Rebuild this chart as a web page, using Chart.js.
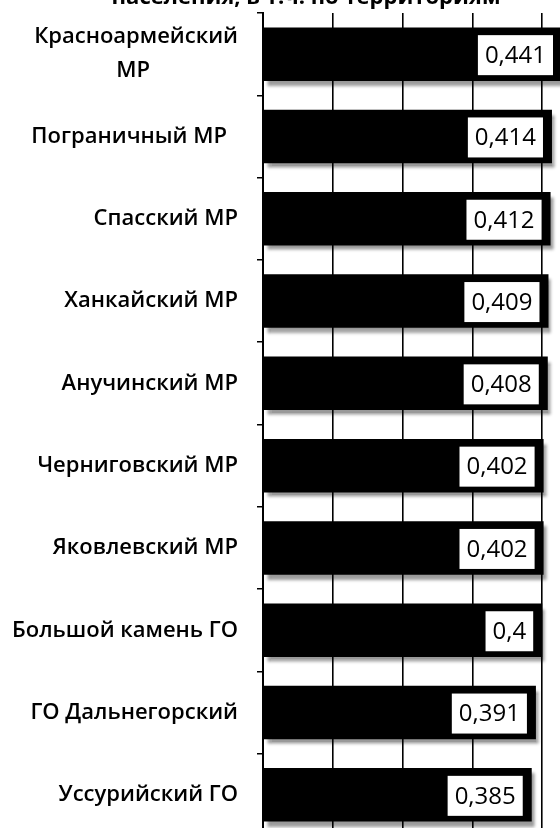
<!DOCTYPE html>
<html lang="ru">
<head>
<meta charset="utf-8">
<title>Коэффициент по территориям</title>
<script src="https://cdn.jsdelivr.net/npm/chart.js@4/dist/chart.umd.min.js"></script>
<style>
    html, body { margin: 0; padding: 0; background: #fff; }
    body { width: 560px; height: 828px; overflow: hidden; position: relative; }
    #chart { position: absolute; left: 0; top: -20px; }
</style>
</head>
<body>
<canvas id="chart" width="620" height="860"></canvas>
<script>
const titleText = 'населения, в т.ч. по территориям';

const categories = [
    ['Красноармейский', 'МР\u2003\u2003\u2003\u2003'],
    'Пограничный МР\u2002',
    'Спасский МР',
    'Ханкайский МР',
    'Анучинский МР',
    'Черниговский МР',
    'Яковлевский МР',
    'Большой камень ГО',
    'ГО Дальнегорский',
    'Уссурийский ГО',
];
const values = [0.441, 0.414, 0.412, 0.409, 0.408, 0.402, 0.402, 0.4, 0.391, 0.385];
const xTicks = [0, 0.1, 0.2, 0.3, 0.4, 0.5];

const FONT = '"Open Sans", "Noto Sans", sans-serif';

// Comma as the decimal separator, as in the source.
const fmt = (v) => String(v).replace('.', ',');

// Soft grey drop shadow under the bars.
const barShadow = {
    id: 'barShadow',
    beforeDatasetsDraw(chart) {
        const ctx = chart.ctx;
        ctx.save();
        ctx.shadowColor = 'rgba(0, 0, 0, 0.4)';
        ctx.shadowOffsetX = 3;
        ctx.shadowOffsetY = 5;
        ctx.shadowBlur = 3;
    },
    afterDatasetsDraw(chart) {
        chart.ctx.restore();
    },
};

// White value boxes sitting inside the end of each bar.
const valueBoxes = {
    id: 'valueBoxes',
    afterDatasetsDraw(chart) {
        const ctx = chart.ctx;
        const meta = chart.getDatasetMeta(0);
        const visibleRight = 553;
        ctx.save();
        ctx.font = '24px ' + FONT;
        ctx.textAlign = 'center';
        ctx.textBaseline = 'middle';
        meta.data.forEach((bar, i) => {
            const text = fmt(values[i]);
            const w = ctx.measureText(text).width + 14;
            const h = 40;
            const right = Math.min(bar.x - 9, visibleRight);
            const top = bar.y - h / 2 + 1;
            ctx.fillStyle = '#fff';
            ctx.fillRect(right - w, top, w, h);
            ctx.fillStyle = '#000';
            ctx.fillText(text, right - w / 2, top + h / 2 + 1);
        });
        ctx.restore();
    },
};

new Chart(document.getElementById('chart'), {
    type: 'bar',
    data: {
        labels: categories,
        datasets: [{
            data: values,
            backgroundColor: '#000',
            borderWidth: 0,
            categoryPercentage: 1,
            barPercentage: 0.65,
        }],
    },
    options: {
        indexAxis: 'y',
        responsive: false,
        animation: false,
        events: [],
        layout: { padding: { top: 0, right: 8, bottom: 4, left: 0 } },
        plugins: {
            legend: { display: false },
            tooltip: { enabled: false },
            title: {
                display: true,
                text: titleText,
                color: '#000',
                font: { family: FONT, size: 22, weight: 'bold' },
                padding: { top: 5, bottom: 1.6 },
            },
        },
        scales: {
            x: {
                min: 0,
                max: 0.5,
                afterBuildTicks: (scale) => { scale.ticks = xTicks.map((v) => ({ value: v })); },
                grid: { color: '#000', lineWidth: 1.6, drawTicks: false },
                border: { display: true, color: '#000', width: 1.6 },
                ticks: { display: false },
            },
            y: {
                afterFit: (scale) => {
                    scale.width = 263;
                    // labels sit inside their bands, no extra room needed above/below
                    scale.paddingTop = 0;
                    scale.paddingBottom = 0;
                },
                grid: { drawOnChartArea: false, color: '#000', lineWidth: 1.5, tickLength: 6 },
                border: { color: '#000', width: 2 },
                ticks: {
                    color: '#000',
                    padding: 19,
                    font: { family: FONT, size: 22, weight: 600, lineHeight: 1.55 },
                },
            },
        },
    },
    plugins: [barShadow, valueBoxes],
});
</script>
</body>
</html>
